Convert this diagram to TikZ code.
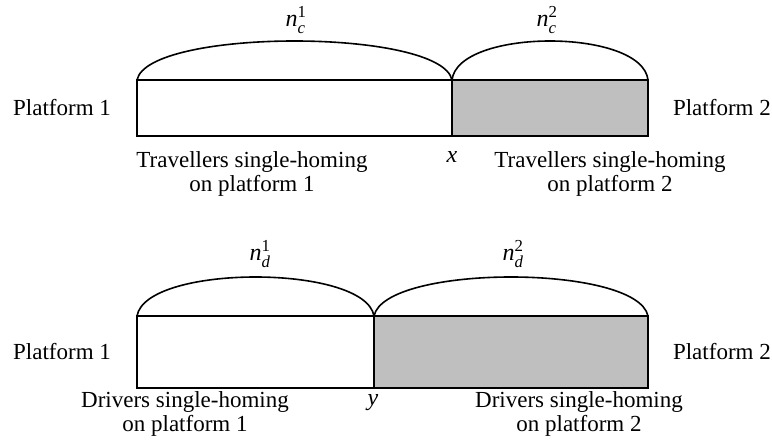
\documentclass[tikz,border=0pt]{standalone}
\usepackage{amsmath}
\usepackage{fontspec}
\setmainfont{Liberation Serif}
\definecolor{boxgray}{RGB}{191,191,191}
\begin{document}
\begin{tikzpicture}[x=1pt,y=-1pt,
  lbl/.style={inner sep=0pt,font=\fontsize{23}{26}\selectfont},
  mlbl/.style={inner sep=0pt,font=\fontsize{24}{26}\selectfont},
  txt/.style={inner sep=0pt,align=center,font=\fontsize{23}{24.5}\selectfont},
  bar/.style={line width=1.6pt},
  arcline/.style={line width=1.6pt}]
\useasboundingbox (0,0) rectangle (772,443);
% ---- top: travellers
\coordinate (tl) at (137,80);
\coordinate (tm) at (452,80);
\coordinate (tr) at (648,80);
\coordinate (bl) at (137,136);
\coordinate (bm) at (452,136);
\coordinate (br) at (648,136);
\fill[boxgray] (tm) rectangle (br);
\draw[bar] (tl) rectangle (br);
\draw[bar] (tm) -- (bm);
\draw[arcline] (tl) .. controls (148,28) and (441,28) .. (tm);
\draw[arcline] (tm) .. controls (458,28) and (642,28) .. (tr);
\node[mlbl] (nc1) at (296,20) {$\textit{n}^{\textup{1}}_{\textit{c}}$};
\node[mlbl] (nc2) at (547,20) {$\textit{n}^{\textup{2}}_{\textit{c}}$};
\node[lbl,anchor=west] (p1a) at (13,108) {Platform 1};
\node[lbl,anchor=east] (p2a) at (771,108) {Platform 2};
\node[mlbl] (xl) at (452,157) {\textit{x}};
\node[txt] (t1) at (252,174) {Travellers single-homing\\on platform 1};
\node[txt] (t2) at (610,174) {Travellers single-homing\\on platform 2};
% ---- bottom: drivers
\coordinate (dtl) at (137,316);
\coordinate (dtm) at (374,316);
\coordinate (dtr) at (648,316);
\coordinate (dbl) at (137,388);
\coordinate (dbm) at (374,388);
\coordinate (dbr) at (648,388);
\fill[boxgray] (dtm) rectangle (dbr);
\draw[bar] (dtl) rectangle (dbr);
\draw[bar] (dtm) -- (dbm);
\draw[arcline] (dtl) .. controls (146,264) and (365,264) .. (dtm);
\draw[arcline] (dtm) .. controls (385,264) and (637,264) .. (dtr);
\node[mlbl] (nd1) at (260,254) {$\textit{n}^{\textup{1}}_{\textit{d}}$};
\node[mlbl] (nd2) at (513,254) {$\textit{n}^{\textup{2}}_{\textit{d}}$};
\node[lbl,anchor=west] (p1b) at (13,352) {Platform 1};
\node[lbl,anchor=east] (p2b) at (771,352) {Platform 2};
\node[mlbl] (yl) at (373,403) {\textit{y}};
\node[txt] (d1) at (185,414) {Drivers single-homing\\on platform 1};
\node[txt] (d2) at (579,414) {Drivers single-homing\\on platform 2};
\end{tikzpicture}
\end{document}
